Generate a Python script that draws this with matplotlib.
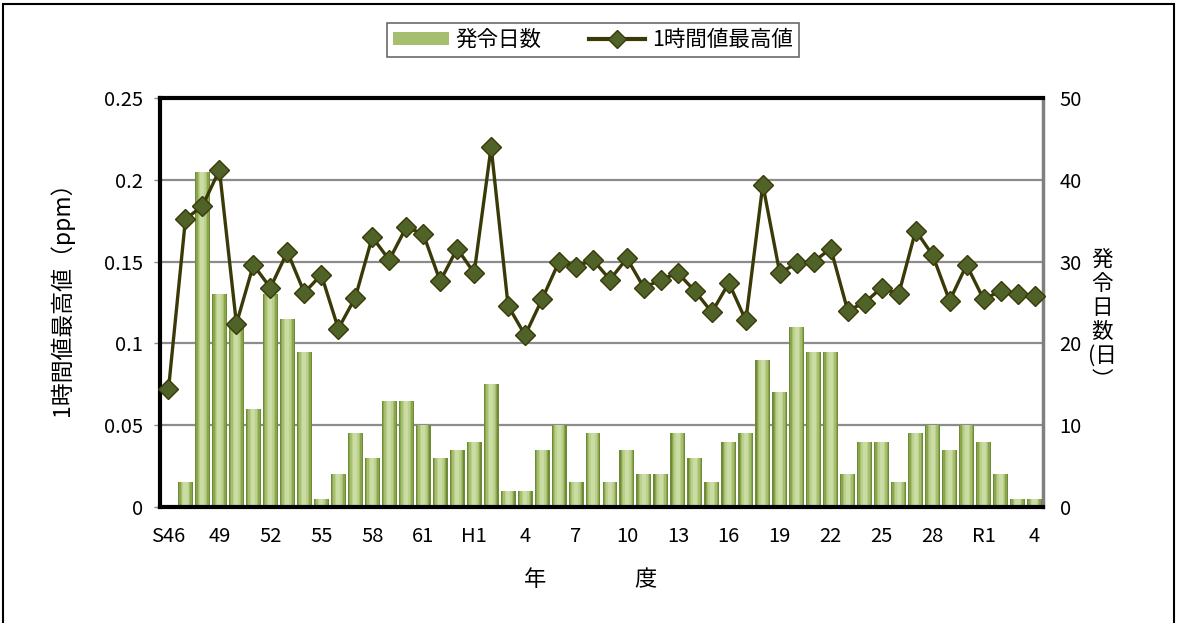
import matplotlib
matplotlib.use("Agg")
import matplotlib.pyplot as plt
from matplotlib.patches import Patch, Rectangle
from matplotlib.lines import Line2D
import numpy as np

plt.rcParams['font.family'] = ['Noto Sans CJK JP', 'DejaVu Sans']

# ---- data ----
years = (["S46"] + [str(y) for y in range(47, 64)]
         + ["H1"] + [str(y) for y in range(2, 31)]
         + ["R1", "2", "3", "4"])
days = [0, 3, 41, 26, 22, 12, 26, 23, 19, 1,
        4, 9, 6, 13, 13, 10, 6, 7, 8, 15,
        2, 2, 7, 10, 3, 9, 3, 7, 4, 4,
        9, 6, 3, 8, 9, 18, 14, 22, 19, 19,
        4, 8, 8, 3, 9, 10, 7, 10, 8, 4,
        1, 1]
max_ppm = [0.072, 0.176, 0.184, 0.206, 0.112, 0.148, 0.134, 0.156, 0.131, 0.142,
           0.109, 0.128, 0.165, 0.151, 0.171, 0.167, 0.138, 0.158, 0.143, 0.220,
           0.123, 0.105, 0.127, 0.150, 0.147, 0.151, 0.139, 0.152, 0.134, 0.139,
           0.143, 0.132, 0.119, 0.137, 0.114, 0.197, 0.143, 0.149, 0.150, 0.158,
           0.120, 0.125, 0.134, 0.130, 0.169, 0.154, 0.126, 0.148, 0.127, 0.132,
           0.130, 0.129]
left_ticks = [0, 0.05, 0.1, 0.15, 0.2, 0.25]
left_ticklabels = ["0", "0.05", "0.1", "0.15", "0.2", "0.25"]
right_ticks = [0, 10, 20, 30, 40, 50]

W, H = 1179, 623
fig = plt.figure(figsize=(W / 100, H / 100), dpi=100)
fig.patch.set_facecolor('white')

L, R, T, B = 160, 1043, 98, 507
ax = fig.add_axes([L / W, 1 - B / H, (R - L) / W, (B - T) / H])
ax2 = ax.twinx()

x = np.arange(len(years))

# bars (cylinder-like gradient via layered bars)
layers = [(0.88, '#6f8a38'), (0.74, '#8aa64d'), (0.58, '#a6bf6e'),
          (0.42, '#bcd08d'), (0.24, '#cadba3')]
for w, c in layers:
    ax.bar(x, days, width=w, color=c, linewidth=0, zorder=2)

ax.set_ylim(0, 50)
ax.set_yticks(right_ticks)
ax.set_xlim(-0.5, len(years) - 0.5)
ax.set_axisbelow(True)
ax.yaxis.grid(True, color='#8c8c8c', linewidth=1.6, zorder=0)
ax.yaxis.tick_right()
ax.tick_params(axis='y', which='both', length=0, pad=12, labelsize=14.5)
for s in ax.spines.values():
    s.set_visible(False)

# line
ax2.plot(x, max_ppm, color='#3a3a08', linewidth=2.4, marker='D', markersize=10.5,
         markerfacecolor='#4f6228', markeredgecolor='#3a3a08', markeredgewidth=1.0,
         zorder=5, clip_on=False)
ax2.set_ylim(0, 0.25)
ax2.set_yticks(left_ticks)
ax2.set_yticklabels(left_ticklabels)
ax2.yaxis.tick_left()
ax2.tick_params(axis='y', which='both', direction='out', length=4, width=1,
                color='#8c8c8c', pad=8, labelsize=14.5)

tick_idx = list(range(0, len(years), 3))
ax.set_xticks(tick_idx)
ax.set_xticklabels([years[i] for i in tick_idx])
ax.tick_params(axis='x', length=0, pad=14, labelsize=14.5)
ax2.tick_params(axis='x', length=0)

for side in ['top', 'left', 'bottom']:
    ax2.spines[side].set_color('black')
    ax2.spines[side].set_linewidth(3)
ax2.spines['right'].set_color('#808080')
ax2.spines['right'].set_linewidth(2.5)

# axis labels
fig.text(62 / W, 1 - 293 / H, "1時間値最高値（ppm）", rotation=90, ha='center',
         va='center', fontsize=16.5)
fig.text(1102 / W, 1 - 320 / H, "発\n令\n日\n数\n(日\n︶", ha='center', va='center',
         fontsize=15.5, linespacing=1.12)
fig.text(535 / W, 1 - 580 / H, "年", ha='center', va='center', fontsize=16)
fig.text(645 / W, 1 - 580 / H, "度", ha='center', va='center', fontsize=16)

# legend
handles = [Patch(facecolor='#a6bf6e', edgecolor='none'),
           Line2D([0], [0], color='#3a3a08', linewidth=3, marker='D', markersize=9,
                  markerfacecolor='#4f6228', markeredgecolor='#3a3a08')]
leg = fig.legend(handles, ["発令日数", "1時間値最高値"], loc='center',
                 bbox_to_anchor=(593 / W, 1 - 40 / H), ncol=2, fontsize=15.5,
                 frameon=True, fancybox=False, handlelength=2.6, handleheight=0.6,
                 columnspacing=2.2, handletextpad=0.3, borderpad=0.3,
                 borderaxespad=0)
leg.get_frame().set_edgecolor('#444444')
leg.get_frame().set_linewidth(1.2)

# outer border
fig.patches.append(Rectangle((3 / W, -0.05), (1174 - 3) / W, 1.05 - 4 / H,
                             transform=fig.transFigure, fill=False,
                             edgecolor='black', linewidth=1.5))

fig.savefig("out.png", dpi=100)
